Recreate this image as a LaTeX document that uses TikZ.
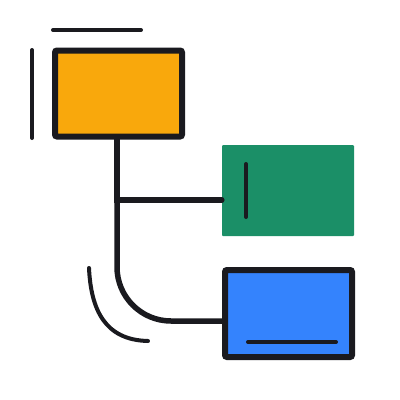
\documentclass[tikz,border=0pt]{standalone}
\usepackage{tikz}

\definecolor{ink}{HTML}{1A1A1F}
\definecolor{amber}{HTML}{F9A80C}
\definecolor{teal}{HTML}{1B8F67}
\definecolor{azure}{HTML}{3483FD}

\tikzset{
	box/.style={minimum width=127pt,minimum height=86pt,inner sep=0pt,
		draw=ink,line width=6pt,rounded corners=2pt},
	conn/.style={draw=ink,line width=5.5pt,line cap=round},
	mark line/.style={draw=ink,line width=4pt,line cap=round}
}

\begin{document}
\begin{tikzpicture}[x=1pt,y=-1pt]
	\useasboundingbox (0,0) rectangle (400,400);

	% boxes
	\node[box,fill=amber] (orange) at (118.5,93.5) {};
	\node[fill=teal,minimum width=132pt,minimum height=91pt,inner sep=0pt,rounded corners=1pt] (green) at (288,190.5) {};
	\node[box,fill=azure,minimum height=87pt] (blue) at (288.5,313.5) {};

	% connectors
	\draw[conn] (orange.south -| 117,0) -- (117,200) -- (green.west |- 0,200);
	\draw[conn,rounded corners=54pt] (117,190) -- (117,321) -- (blue.west |- 0,321);

	% accent strokes
	\draw[mark line] (53,30) -- (141,30);
	\draw[mark line] (32,50) -- (32,138);
	\draw[mark line] (246,164) -- (246,217);
	\draw[mark line] (248,342) -- (336,342);
	\draw[mark line] (89,268) .. controls (91,310) and (105,340) .. (148,341);
\end{tikzpicture}
\end{document}
